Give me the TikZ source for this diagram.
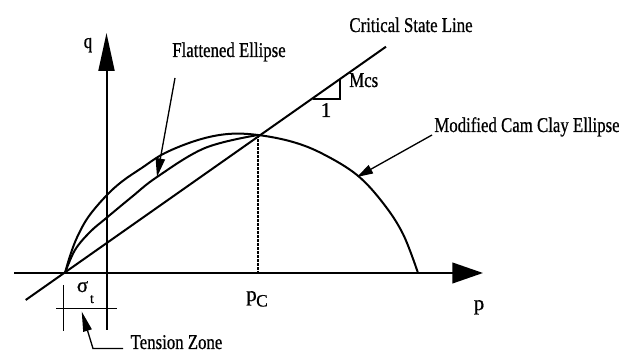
\documentclass[tikz,border=0pt]{standalone}
\usepackage{fontspec}
\usepackage{graphicx}
\setmainfont{Liberation Serif}
\newfontfamily\heavyserif[FakeBold=0.8]{Liberation Serif}
\usetikzlibrary{arrows.meta}
\newcommand{\cnd}[1]{\scalebox{0.8}[1]{#1}}
\tikzset{
  lbl/.style={inner sep=0pt, anchor=base, font=\heavyserif\fontsize{15.75pt}{18pt}\selectfont},
  curve/.style={line width=1.5pt, line join=round},
  axis/.style={line width=1.5pt},
  thin line/.style={line width=1pt},
}
\begin{document}
\begin{tikzpicture}[x=0.75pt, y=-0.75pt]
\useasboundingbox (0,0) rectangle (619,352);
% key points
\coordinate (O) at (65,273);
\coordinate (X0) at (14,273);
\coordinate (X1) at (483,273);
\coordinate (Y0) at (106.5,330);
\coordinate (Y1) at (106.5,33);
\coordinate (K) at (258,135);
\coordinate (Kb) at (258,273);
\coordinate (C0) at (25.7,300);
\coordinate (C1) at (386,46.7);
\coordinate (T1) at (313,99);
\coordinate (T2) at (340,99);
\coordinate (T3) at (340,79);
% axes
\draw[axis, -{Triangle[length=23pt, width=15.5pt]}] (X0) -- (X1);
\draw[axis, -{Triangle[length=28.5pt, width=12pt]}] (Y0) -- (Y1);
% critical state line
\draw[curve] (C0) -- (C1);
\draw[thin line] (T1) -- (T2) -- (T3);
% dashed line
\draw[line width=0.8pt, dash pattern=on 2pt off 1pt] (K) -- (Kb);
% modified cam clay ellipse
\draw[curve] plot[smooth, tension=0.6] coordinates {(O) (70,256) (77,237.5) (88.3,217) (106,196) (122,181.5) (141.7,168) (165,153) (198,140) (228,134) (K) (293,142) (323,154) (357,175) (383,203) (403,234) (418,273)};
% flattened ellipse
\draw[curve] plot[smooth, tension=0.6] coordinates {(O) (75,250) (90,232) (106,218.3) (131.7,197) (157,177) (205,148) (K)};
% tension zone dimension
\coordinate (D1) at (63.3,285);
\coordinate (D2) at (63.3,331);
\coordinate (D3) at (56,308.3);
\coordinate (D4) at (117,308.3);
\draw[thin line] (D1) -- (D2);
\draw[thin line] (D3) -- (D4);
% labels
\node[lbl] (q) at (88,48) {\cnd{q}};
\node[lbl] (p) at (479,310) {p};
\node[lbl] (pc) at (251.5,301) {p};
\node[lbl, font=\heavyserif\fontsize{13pt}{15pt}\selectfont] (pcs) at (262,306.5) {C};
\node[lbl] (sig) at (82.5,292) {σ};
\node[lbl, font=\heavyserif\fontsize{10.5pt}{12pt}\selectfont] (sigt) at (92,303) {t};
\node[lbl] (fe) at (229,57) {\cnd{Flattened Ellipse}};
\node[lbl] (csl) at (411,32) {\cnd{Critical State Line}};
\node[lbl, anchor=base west] (mcs) at (349,87) {\cnd{Mcs}};
\node[lbl] (one) at (326,117) {1};
\node[lbl] (mcc) at (527,132) {\cnd{Modified Cam Clay Ellipse}};
\node[lbl] (tz) at (176.5,349) {\cnd{Tension Zone}};
% leaders
\coordinate (feS) at (175,78);
\coordinate (feT) at (157,177);
\draw[line width=1pt, -{Triangle[length=14pt,width=7pt]}] (feS) -- (feT);
\coordinate (mccS) at (432,135);
\coordinate (mccT) at (357,177);
\draw[line width=1pt, -{Triangle[length=12pt,width=7pt]}] (mccS) -- (mccT);
\coordinate (tzS) at (123,348.5);
\coordinate (tzC) at (93,348.5);
\coordinate (tzT) at (81.7,311.5);
\draw[line width=1pt, -{Triangle[length=15pt,width=6.5pt]}] (tzS) -- (tzC) -- (tzT);
\end{tikzpicture}
\end{document}
